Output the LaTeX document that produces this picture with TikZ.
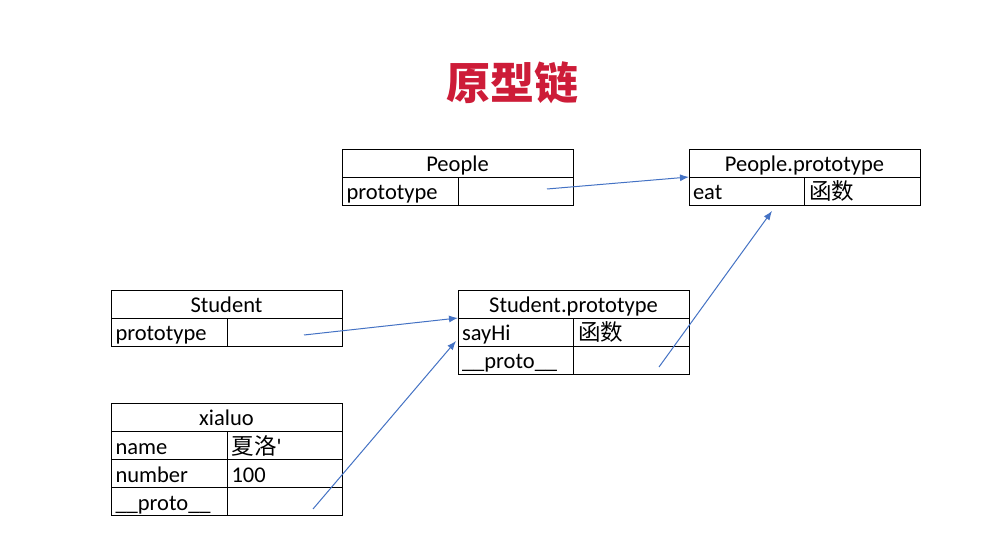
\documentclass[tikz,border=0pt]{standalone}
\usepackage{fontspec}
\setmainfont{Carlito}
\newfontfamily\cjk{Noto Sans CJK SC}
\usetikzlibrary{arrows.meta,calc}
\definecolor{titlered}{RGB}{205,28,56}
\definecolor{linkblue}{RGB}{68,114,196}
\tikzset{
	cell/.style={draw=black,line width=0.9pt,anchor=north west,minimum height=28pt,outer sep=0pt,
		inner xsep=4pt,inner ysep=0pt,text height=18pt,text depth=0pt,
		font=\fontsize{22.5}{24}\selectfont},
	headcell/.style={cell,minimum width=231pt,text width=223pt,align=center},
	keycell/.style={cell,minimum width=116pt,text width=107pt,align=left},
	valcell/.style={cell,minimum width=115pt,text width=106pt,align=left,inner xsep=4.5pt},
	link/.style={draw=linkblue,line width=1pt,-{Latex[length=9pt,width=7pt]}}
}
\begin{document}
\begin{tikzpicture}[x=1pt,y=-1pt]
	\useasboundingbox[fill=white] (0,0) rectangle (994,553);

% title
	\node[font=\cjk\bfseries\fontsize{44}{48}\selectfont,text=titlered] (title) at (512,83) {原型链};

% People
	\node[headcell] (peo) at (342,149) {People};
	\node[keycell] (peo-k) at (peo.south west) {prototype};
	\node[valcell] (peo-v) at (peo-k.north east) {};

% People.prototype
	\node[headcell] (ppt) at (689,149) {People.prototype};
	\node[keycell,minimum width=115pt] (ppt-k) at (ppt.south west) {eat};
	\node[valcell,minimum width=116pt] (ppt-v) at (ppt-k.north east) {\cjk 函数};

% Student
	\node[headcell] (stu) at (111,290) {Student};
	\node[keycell] (stu-k) at (stu.south west) {prototype};
	\node[valcell] (stu-v) at (stu-k.north east) {};

% Student.prototype
	\node[headcell] (spt) at (458,290) {Student.prototype};
	\node[keycell,minimum width=115pt] (spt-k1) at (spt.south west) {sayHi};
	\node[valcell,minimum width=116pt] (spt-v1) at (spt-k1.north east) {\cjk 函数};
	\node[keycell,minimum width=115pt] (spt-k2) at (spt-k1.south west) {\_\_proto\_\_};
	\node[valcell,minimum width=116pt] (spt-v2) at (spt-k2.north east) {};

% xialuo
	\node[headcell] (xl) at (111,403) {xialuo};
	\node[keycell] (xl-k1) at (xl.south west) {name};
	\node[valcell] (xl-v1) at (xl-k1.north east) {\cjk 夏洛\rmfamily\textquotesingle};
	\node[keycell] (xl-k2) at (xl-k1.south west) {number};
	\node[valcell] (xl-v2) at (xl-k2.north east) {100};
	\node[keycell] (xl-k3) at (xl-k2.south west) {\_\_proto\_\_};
	\node[valcell] (xl-v3) at (xl-k3.north east) {};

% free ends of links
	\coordinate (peo-s) at (547,189);
	\coordinate (stu-s) at (304,335);
	\coordinate (xl-s) at (313,509);
	\coordinate (spt-s) at (659,367);
	\coordinate (spt-e) at (456,341);
	\coordinate (ppt-e) at (772,211);

% links
	\draw[link] (peo-s) -- (ppt.south west);
	\draw[link] (stu-s) -- (spt.south west);
	\draw[link] (xl-s) -- (spt-e);
	\draw[link] (spt-s) -- (ppt-e);
\end{tikzpicture}
\end{document}
